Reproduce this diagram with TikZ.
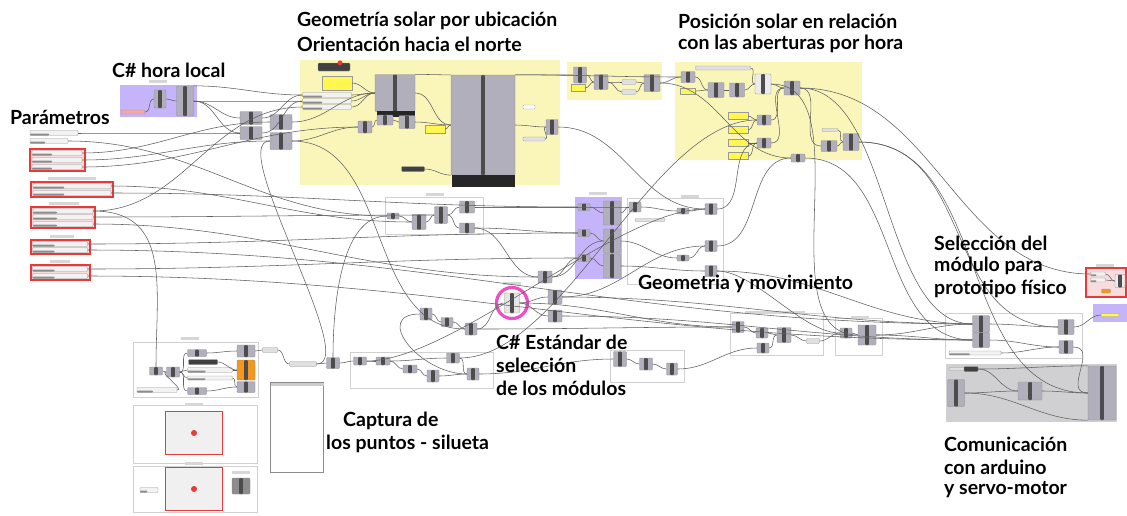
\documentclass[tikz,border=0pt]{standalone}
\usepackage{fontspec}
\setmainfont{Lato}
\usepackage{tikz}
\usetikzlibrary{calc}

\definecolor{ghyellow}{RGB}{250,246,186}
\definecolor{ghnote}{RGB}{255,246,80}
\definecolor{ghpurple}{RGB}{198,180,250}
\definecolor{ghred}{RGB}{232,58,58}
\definecolor{ghpink}{RGB}{246,205,208}
\definecolor{ghgray}{RGB}{208,208,210}
\definecolor{ghcomp}{RGB}{178,175,188}
\definecolor{ghwire}{RGB}{95,95,95}
\definecolor{ghmagenta}{RGB}{236,78,196}
\definecolor{ghorange}{RGB}{245,150,30}

\tikzset{
  comp/.style={draw=black!45, fill=ghcomp, line width=0.3pt, rounded corners=0.8pt,
    minimum width=13pt, minimum height=16pt, inner sep=0pt,
    path picture={\fill[black!70] ([xshift=-1.8pt]path picture bounding box.north)
      rectangle ([xshift=1.8pt]path picture bounding box.south);}},
  slider/.style={draw=black!40, fill=black!12, line width=0.3pt, rounded corners=0.8pt,
    minimum width=45pt, minimum height=4pt, inner sep=0pt},
  pslider/.style={slider, fill=black!5, minimum height=5pt,
    path picture={\fill[black!45] (path picture bounding box.south west) rectangle
      ($(path picture bounding box.south west)!0.4!(path picture bounding box.north east)$ |- path picture bounding box.north);}},
  darkslider/.style={slider, fill=black!75},
  note/.style={draw=black!40, fill=ghnote, line width=0.3pt, minimum width=18pt,
    minimum height=7pt, inner sep=0pt},
  panel/.style={draw=black!45, fill=white, line width=0.4pt, inner sep=0pt},
  redpanel/.style={draw=ghred, line width=1.4pt, fill=black!6, inner sep=0pt,
    minimum width=57pt, minimum height=43pt},
  redbox/.style={draw=ghred, line width=1.3pt, fill=ghpink!70},
  outline/.style={draw=black!18, line width=0.3pt},
  tag/.style={fill=black!16, minimum width=18pt, minimum height=3pt, inner sep=0pt},
  wire/.style={draw=ghwire, line width=0.55pt},
  lbl/.style={anchor=west, inner sep=0pt, font=\fontsize{19.5}{22}\selectfont\bfseries}
}

\begin{document}
\begin{tikzpicture}[x=1pt,y=-1pt]
\useasboundingbox (0,0) rectangle (1127,515);
\fill[white] (0,0) rectangle (1127,515);

% groups
\fill[ghpurple] (120,85) rectangle (197,117);
\fill[ghyellow] (300,60) rectangle (560,185);
\fill[ghyellow] (567,62) rectangle (662,100);
\fill[ghyellow] (675,62) rectangle (862,160);
\fill[ghpurple] (575,197) rectangle (622,279);
\fill[ghpurple] (1093,304) rectangle (1127,322);
\fill[ghgray] (946,364) rectangle (1117,422);
\draw[redbox] (1086,268) rectangle (1126,297);
\draw[outline] (385,197) rectangle (483,234);
\draw[outline] (627,198) rectangle (723,284);
\draw[outline] (350,352) rectangle (493,388);
\draw[outline] (610,350) rectangle (684,382);
\draw[outline] (730,313) rectangle (823,355);
\draw[outline] (835,318) rectangle (882,355);
\draw[outline] (945,313) rectangle (1082,358);
\draw[outline] (133,342) rectangle (258,397);
\draw[outline] (133,405) rectangle (257,463);
\draw[outline] (133,466) rectangle (257,512);

% group tags
\node[tag] (tHora) at (158,81) {};
\node[tag] (tMid) at (435,194) {};
\node[tag] (tPur) at (598,193) {};
\node[tag] (tRig) at (690,196) {};
\node[tag] (tPink) at (512,283) {};
\node[tag] (tLow) at (190,338) {};
\node[tag] (tPan1) at (194,404) {};
\node[tag] (tPan2) at (194,463) {};
\node[tag] (tBot) at (860,317) {};
\node[tag] (tRed) at (1105,265) {};
\node[tag, minimum width=60pt] (tLong) at (775,312) {};

% C# hora local
\node[slider, minimum width=24pt, fill=ghred!45] (h0) at (133,112) {};
\node[comp, minimum width=12pt, minimum height=18pt] (h1) at (160,99) {};
\node[comp, minimum width=17pt, minimum height=30pt] (h2) at (185,101) {};

% parametros
\node[pslider, minimum width=48pt] (s1) at (54,133) {};
\node[pslider, minimum width=38pt] (s2) at (49,141) {};
\draw[redbox] (30,149) rectangle (85,171);
\node[pslider, minimum width=50pt] (r11) at (57,153) {};
\node[pslider, minimum width=50pt] (r12) at (57,160) {};
\node[pslider, minimum width=50pt] (r13) at (57,167) {};
\node[tag, minimum width=48pt] (t2) at (72,178) {};
\draw[redbox] (31,182) rectangle (113,197);
\node[pslider, minimum width=78pt] (r21) at (72,186) {};
\node[pslider, minimum width=78pt] (r22) at (72,193) {};
\node[tag, minimum width=30pt] (t3) at (64,203) {};
\draw[redbox] (31,207) rectangle (95,228);
\node[pslider, minimum width=60pt] (r31) at (63,211) {};
\node[pslider, minimum width=60pt] (r32) at (63,217) {};
\node[pslider, minimum width=60pt] (r33) at (63,224) {};
\node[tag, minimum width=24pt] (t4) at (62,236) {};
\draw[redbox] (31,240) rectangle (90,254);
\node[pslider, minimum width=55pt] (r41) at (60,244) {};
\node[pslider, minimum width=55pt] (r42) at (60,250) {};
\node[tag, minimum width=20pt] (t5) at (60,261) {};
\draw[redbox] (31,265) rectangle (90,280);
\node[pslider, minimum width=55pt] (r51) at (60,269) {};
\node[pslider, minimum width=55pt] (r52) at (60,276) {};

% entradas
\node[comp, minimum width=22pt, minimum height=13pt] (p1) at (251,118) {};
\node[comp, minimum width=22pt, minimum height=13pt] (p2) at (251,133) {};
\node[comp, minimum width=22pt, minimum height=15pt] (p3) at (281,122) {};
\node[comp, minimum width=22pt, minimum height=17pt] (p4) at (281,141) {};

% geometria solar
\node[darkslider, minimum width=32pt, minimum height=8pt] (ydark) at (334,67) {};
\fill[ghred] (ydark.north) ++(6,0) circle (2.5);
\node[note, minimum width=30pt, minimum height=14pt] (ynote1) at (337,83) {};
\node[pslider, minimum width=49pt] (ys1) at (327,95) {};
\node[pslider, minimum width=49pt] (ys2) at (327,101) {};
\node[pslider, minimum width=49pt] (ys3) at (327,107) {};
\node[comp, minimum width=40pt, minimum height=37pt] (compA) at (395,93) {};
\fill[black!85] (377,111) rectangle (415,117);
\node[comp, minimum width=14pt, minimum height=12pt] (ya1) at (365,127) {};
\node[comp, minimum width=16pt, minimum height=10pt] (ya2) at (385,120) {};
\node[comp, minimum width=16pt, minimum height=13pt] (ya3) at (407,122) {};
\node[note, minimum width=20pt, minimum height=8pt] (ynote2) at (435,129) {};
\node[comp, minimum width=64pt, minimum height=100pt] (compB) at (483,125) {};
\fill[black!85] (452,175) rectangle (515,187);
\node[comp, minimum width=12pt, minimum height=15pt] (yb1) at (552,127) {};
\node[slider, minimum width=22pt] (yb2) at (534,139) {};
\node[slider, minimum width=12pt, fill=white] (yb3) at (529,107) {};
\node[darkslider, minimum width=23pt, minimum height=5pt] (ybs) at (413,169) {};

% posicion solar
\node[comp, minimum width=13pt, minimum height=16pt] (t1) at (580,75) {};
\node[note, minimum width=14pt] (tnote) at (578,88) {};
\node[comp, minimum width=14pt, minimum height=15pt] (t2c) at (601,82) {};
\node[slider, minimum width=14pt, minimum height=5pt] (t3) at (629,82) {};
\node[slider, minimum width=14pt, minimum height=5pt] (t4) at (629,92) {};
\node[comp, minimum width=16pt, minimum height=17pt] (t5) at (652,83) {};
\node[comp, minimum width=14pt, minimum height=11pt] (u1) at (688,77) {};
\node[slider, minimum width=55pt] (uLong) at (723,68) {};
\node[note, minimum width=15pt, minimum height=6pt] (unote) at (688,91) {};
\node[comp, minimum width=16pt, minimum height=15pt] (u2) at (716,90) {};
\node[comp, minimum width=15pt, minimum height=14pt] (u3) at (737,90) {};
\node[comp, minimum width=16pt, minimum height=20pt, fill=black!8] (u4) at (763,84) {};
\node[comp, minimum width=16pt, minimum height=14pt] (u5) at (792,88) {};
\node[note, minimum width=20pt] (un1) at (738,116) {};
\node[note, minimum width=20pt] (un2) at (738,130) {};
\node[note, minimum width=20pt] (un3) at (738,143) {};
\node[note, minimum width=20pt] (un4) at (738,156) {};
\node[comp, minimum width=14pt, minimum height=10pt] (u6) at (764,120) {};
\node[comp, minimum width=14pt, minimum height=10pt] (u7) at (764,143) {};
\node[slider, minimum width=16pt, minimum height=3pt] (u8s) at (830,130) {};
\node[comp, minimum width=16pt, minimum height=11pt] (u8) at (829,146) {};
\node[comp, minimum width=16pt, minimum height=17pt] (u9) at (851,142) {};
\node[comp, minimum width=14pt, minimum height=8pt] (u10) at (798,158) {};

% grupo central
\node[comp, minimum width=12pt, minimum height=6pt] (m1) at (393,216) {};
\node[comp, minimum width=14pt, minimum height=15pt] (m2) at (419,222) {};
\node[comp, minimum width=13pt, minimum height=17pt] (m3) at (441,215) {};
\node[comp, minimum width=15pt, minimum height=12pt] (m4) at (467,207) {};
\node[comp, minimum width=15pt, minimum height=10pt] (m5) at (467,228) {};
\node[comp, minimum width=12pt, minimum height=7pt] (pu1) at (584,207) {};
\node[comp, minimum width=12pt, minimum height=7pt] (pu2) at (584,233) {};
\node[comp, minimum width=12pt, minimum height=7pt] (pu3) at (584,258) {};
\node[comp, minimum width=17pt, minimum height=24pt] (pu4) at (612,213) {};
\node[comp, minimum width=17pt, minimum height=24pt] (pu5) at (612,241) {};
\node[comp, minimum width=17pt, minimum height=24pt] (pu6) at (612,266) {};
\node[comp, minimum width=12pt, minimum height=10pt] (g1m) at (635,207) {};
\node[slider, minimum width=30pt, minimum height=3pt] (gsl) at (650,220) {};
\node[comp, minimum width=12pt, minimum height=6pt] (g2m) at (683,211) {};
\node[comp, minimum width=12pt, minimum height=11pt] (g3m) at (711,209) {};
\node[comp, minimum width=12pt, minimum height=11pt] (g4m) at (711,246) {};
\node[comp, minimum width=12pt, minimum height=6pt] (g5m) at (683,258) {};
\node[comp, minimum width=12pt, minimum height=11pt] (g6m) at (711,271) {};

% C# estandar
\node[comp, minimum width=14pt, minimum height=12pt] (q1) at (545,277) {};
\node[comp, minimum width=14pt, minimum height=14pt] (q2) at (555,297) {};
\node[comp, minimum width=14pt, minimum height=12pt] (q3) at (555,316) {};
\node[draw=ghmagenta, line width=3.2pt, circle, minimum size=31pt] (pring) at (512,303) {};
\node[comp, minimum width=15pt, minimum height=20pt, fill=black!10] (pc) at (512,303) {};
\node[comp, minimum width=12pt, minimum height=12pt] (l1) at (426,314) {};
\node[comp, minimum width=12pt, minimum height=9pt] (l2) at (447,322) {};
\node[comp, minimum width=12pt, minimum height=12pt] (l3) at (471,329) {};

% captura
\node[pslider, minimum width=40pt] (bp) at (157,390) {};
\node[comp, minimum width=13pt, minimum height=8pt] (b1) at (156,371) {};
\node[comp, minimum width=13pt, minimum height=10pt] (b2) at (173,372) {};
\node[comp, minimum width=19pt, minimum height=7pt] (b3) at (197,353) {};
\node[darkslider, minimum width=29pt, minimum height=5pt] (b4) at (203,362) {};
\node[pslider, minimum width=45pt] (b5) at (210,370) {};
\node[pslider, minimum width=45pt, minimum height=4pt] (b6) at (210,378) {};
\node[comp, minimum width=19pt, minimum height=7pt] (b7) at (197,391) {};
\node[comp, minimum width=18pt, minimum height=12pt] (b8) at (246,351) {};
\node[comp, minimum width=18pt, minimum height=20pt, fill=ghorange] (b9) at (246,370) {};
\node[comp, minimum width=18pt, minimum height=11pt] (b10) at (246,387) {};
\node[slider, minimum width=15pt, minimum height=5pt] (c1) at (270,350) {};
\node[slider, minimum width=27pt, minimum height=5pt] (c2) at (303,364) {};
\node[comp, minimum width=13pt, minimum height=11pt] (l4) at (333,363) {};
\node[comp, minimum width=13pt, minimum height=8pt] (l5) at (360,361) {};
\node[comp, minimum width=14pt, minimum height=8pt] (l6) at (383,361) {};
\node[comp, minimum width=14pt, minimum height=8pt] (l7) at (410,369) {};
\node[comp, minimum width=12pt, minimum height=12pt] (l8) at (433,376) {};
\node[comp, minimum width=13pt, minimum height=10pt] (l9) at (453,358) {};
\node[comp, minimum width=12pt, minimum height=12pt] (l10) at (473,374) {};
\node[comp, minimum width=13pt, minimum height=15pt] (l11) at (620,359) {};
\node[comp, minimum width=13pt, minimum height=12pt] (l12) at (646,364) {};
\node[comp, minimum width=11pt, minimum height=12pt] (l13) at (672,369) {};
\node[redpanel] (rp1) at (194,433) {};
\fill[ghred] (rp1) circle (3);
\node[redpanel] (rp2) at (194,489) {};
\fill[ghred] (rp2) circle (3);
\node[pslider, minimum width=18pt] (bq) at (149,490) {};
\node[comp, minimum width=18pt, minimum height=16pt, fill=black!45] (bc) at (241,486) {};
\node[tag] (tbc) at (241,472) {};
\node[panel, minimum width=53pt, minimum height=90pt] (pan) at (297,427) {};
\fill[black!20] (270.5,382.5) rectangle (323.5,386);

% salida
\node[comp, minimum width=12pt, minimum height=11pt] (v1) at (738,327) {};
\node[comp, minimum width=12pt, minimum height=10pt] (v2) at (762,333) {};
\node[comp, minimum width=14pt, minimum height=15pt] (v3) at (784,335) {};
\node[comp, minimum width=12pt, minimum height=10pt] (v4) at (763,348) {};
\node[slider, minimum width=13pt, minimum height=5pt] (vs) at (813,341) {};
\node[comp, minimum width=12pt, minimum height=10pt] (v5) at (846,333) {};
\node[comp, minimum width=18pt, minimum height=20pt] (v6) at (867,335) {};
\node[comp, minimum width=17pt, minimum height=17pt] (w1) at (981,324) {};
\node[comp, minimum width=17pt, minimum height=15pt] (w2) at (981,340) {};
\node[comp, minimum width=16pt, minimum height=15pt] (w3) at (1066,327) {};
\node[comp, minimum width=14pt, minimum height=13pt] (w4) at (1066,347) {};
\node[pslider, minimum width=52pt, minimum height=4pt] (wsl) at (975,353) {};
\node[pslider, minimum width=15pt, minimum height=4pt] (rr1) at (1098,274) {};
\node[pslider, minimum width=15pt, minimum height=4pt] (rr2) at (1098,280) {};
\node[slider, minimum width=9pt, minimum height=4pt, fill=ghorange] (rr3) at (1106,291) {};
\node[comp, minimum width=10pt, minimum height=13pt, fill=black!8] (rr4) at (1120,281) {};
\node[slider, minimum width=18pt, minimum height=3pt, fill=ghnote] (pr) at (1110,315) {};

% comunicacion
\node[slider, minimum width=16pt, minimum height=3pt] (gs) at (957,369) {};
\node[darkslider, minimum width=14pt, minimum height=5pt] (g0) at (971,369) {};
\node[comp, minimum width=17pt, minimum height=27pt] (g1) at (956,393) {};
\node[comp, minimum width=24pt, minimum height=18pt] (g2) at (1030,391) {};
\node[comp, minimum width=28pt, minimum height=54pt] (g3) at (1102,393) {};

% wires
\draw[wire] (h0.east) to[out=0,in=180] (h1.west);
\draw[wire] (h1.east) to[out=0,in=180] (h2.west);
\draw[wire] (h2.east) to[out=0,in=180] (p1.west);
\draw[wire] (h2.east) to[out=0,in=180] (p2.west);
\draw[wire] (h2.north east) to[out=0,in=180] (ys1.west);
\draw[wire] (h2.east) to[out=0,in=180] (ys2.west);
\draw[wire] (s1.east) to[out=0,in=180] (p2.west);
\draw[wire] (s2.east) to[out=0,in=180] (m1.west);
\draw[wire] (r11.east) to[out=0,in=180] (p3.west);
\draw[wire] (r12.east) to[out=0,in=180] (p4.west);
\draw[wire] (r13.east) to[out=0,in=180] (ya1.west);
\draw[wire] (r21.east) to[out=0,in=180] (m2.west);
\draw[wire] (r22.east) to[out=0,in=180] (pu1.west);
\draw[wire] (r31.east) to[out=0,in=180] (ys3.west);
\draw[wire] (r31.east) to[out=0,in=90,looseness=1.2] (b1.north);
\draw[wire] (r32.east) to[out=0,in=180] (m3.west);
\draw[wire] (r33.east) to[out=0,in=180] (q1.west);
\draw[wire] (r41.east) to[out=0,in=180] (pu2.west);
\draw[wire] (r42.east) to[out=0,in=180] (w1.west);
\draw[wire] (r51.east) to[out=0,in=180] (pu3.west);
\draw[wire] (r52.east) to[out=0,in=180] (w2.west);
\draw[wire] (p1.east) to[out=0,in=180] (ys1.west);
\draw[wire] (p2.east) to[out=0,in=180] (ys2.west);
\draw[wire] (p3.east) to[out=0,in=180] (compA.west);
\draw[wire] (p4.east) to[out=0,in=180] (ya1.west);
\draw[wire] (p4.east) to[out=0,in=180] (l3.west);
\draw[wire] (ys1.east) to[out=0,in=180] (compA.west);
\draw[wire] (ys2.east) to[out=0,in=180] (compA.west);
\draw[wire] (ys3.east) to[out=0,in=180] (compA.west);
\draw[wire] (ynote1.east) to[out=0,in=180] (compA.west);
\draw[wire] (ya1.east) to[out=0,in=180] (ya2.west);
\draw[wire] (ya2.east) to[out=0,in=180] (ya3.west);
\draw[wire] (compA.east) to[out=0,in=180] (compB.west);
\draw[wire] (compA.north east) to[out=0,in=180] (compB.north west);
\draw[wire] (ya3.east) to[out=0,in=180] (compB.west);
\draw[wire] (ynote2.east) to[out=0,in=180] (compB.west);
\draw[wire] (ybs.east) to[out=0,in=180] (compB.south west);
\draw[wire] (compB.east) to[out=0,in=180] (yb1.west);
\draw[wire] (yb2.east) to[out=0,in=180] (yb1.west);
\draw[wire] (compB.north east) to[out=0,in=180] (t1.west);
\draw[wire] (compB.north east) to[out=0,in=180] (u1.west);
\draw[wire] (t1.east) to[out=0,in=180] (t2c.west);
\draw[wire] (tnote.east) to[out=0,in=180] (t2c.west);
\draw[wire] (t2c.east) to[out=0,in=180] (t3.west);
\draw[wire] (t2c.east) to[out=0,in=180] (t4.west);
\draw[wire] (t3.east) to[out=0,in=180] (t5.west);
\draw[wire] (t4.east) to[out=0,in=180] (t5.west);
\draw[wire] (t5.east) to[out=0,in=180] (u1.west);
\draw[wire] (u1.east) to[out=0,in=180] (u2.west);
\draw[wire] (unote.east) to[out=0,in=180] (u2.west);
\draw[wire] (u2.east) to[out=0,in=180] (u3.west);
\draw[wire] (u3.east) to[out=0,in=180] (u4.west);
\draw[wire] (uLong.east) to[out=0,in=180] (u4.west);
\draw[wire] (u4.east) to[out=0,in=180] (u5.west);
\draw[wire] (un1.east) to[out=0,in=180] (u6.west);
\draw[wire] (un2.east) to[out=0,in=180] (u6.west);
\draw[wire] (un3.east) to[out=0,in=180] (u7.west);
\draw[wire] (un4.east) to[out=0,in=180] (u7.west);
\draw[wire] (u6.east) to[out=0,in=180] (u5.west);
\draw[wire] (u7.east) to[out=0,in=180] (u5.west);
\draw[wire] (u8s.east) to[out=0,in=180] (u9.west);
\draw[wire] (u8.east) to[out=0,in=180] (u9.west);
\draw[wire] (u5.east) to[out=0,in=180,looseness=0.8] (w1.west);
\draw[wire] (u5.east) to[out=0,in=180] (u8.west);
\draw[wire] (u4.east) to[out=0,in=180,looseness=0.9] (v6.west);
\draw[wire] (u9.east) to[out=0,in=180,looseness=1.1] (w3.west);
\draw[wire] (u9.east) to[out=0,in=180] (g3.west);
\draw[wire] (u5.east) to[out=0,in=180] (rr1.west);
\draw[wire] (u10.east) to[out=0,in=180] (w2.west);
\draw[wire] (yb1.east) to[out=0,in=180] (g3m.west);
\draw[wire] (t5.east) to[out=0,in=180] (u10.west);
\draw[wire] (m1.east) to[out=0,in=180] (m2.west);
\draw[wire] (m2.east) to[out=0,in=180] (m3.west);
\draw[wire] (m3.east) to[out=0,in=180] (m4.west);
\draw[wire] (m3.east) to[out=0,in=180] (m5.west);
\draw[wire] (m4.east) to[out=0,in=180] (pu1.west);
\draw[wire] (m4.east) to[out=0,in=180] (g1m.west);
\draw[wire] (m5.east) to[out=0,in=180] (q1.west);
\draw[wire] (m5.east) to[out=0,in=180] (pu2.west);
\draw[wire] (pu1.east) to[out=0,in=180] (pu4.west);
\draw[wire] (pu2.east) to[out=0,in=180] (pu5.west);
\draw[wire] (pu3.east) to[out=0,in=180] (pu6.west);
\draw[wire] (q1.east) to[out=0,in=180] (pu3.west);
\draw[wire] (q1.east) to[out=0,in=180] (pu5.west);
\draw[wire] (pu4.east) to[out=0,in=180] (g1m.west);
\draw[wire] (g1m.east) to[out=0,in=180] (g2m.west);
\draw[wire] (g2m.east) to[out=0,in=180] (g3m.west);
\draw[wire] (pu5.east) to[out=0,in=180] (g5m.west);
\draw[wire] (g5m.east) to[out=0,in=180] (g4m.west);
\draw[wire] (pu6.east) to[out=0,in=180] (g6m.west);
\draw[wire] (g3m.east) to[out=0,in=180] (u7.west);
\draw[wire] (g4m.east) to[out=0,in=180] (u10.west);
\draw[wire] (g6m.east) to[out=0,in=180] (w1.west);
\draw[wire] (pc.east) to[out=0,in=180] (q2.west);
\draw[wire] (pc.east) to[out=0,in=180] (q3.west);
\draw[wire] (q2.east) to[out=0,in=180] (w1.west);
\draw[wire] (q3.east) to[out=0,in=180] (w2.west);
\draw[wire] (q2.east) to[out=0,in=180] (g4m.west);
\draw[wire] (l1.east) to[out=0,in=180] (l2.west);
\draw[wire] (l2.east) to[out=0,in=180] (l3.west);
\draw[wire] (l3.east) to[out=0,in=180] (pc.west);
\draw[wire] (l1.west) to[out=180,in=180,looseness=1.6] (l10.west);
\draw[wire] (bp.east) to[out=0,in=180] (b2.west);
\draw[wire] (b1.east) to[out=0,in=180] (b2.west);
\draw[wire] (b2.east) to[out=0,in=180] (b3.west);
\draw[wire] (b2.east) to[out=0,in=180] (b5.west);
\draw[wire] (b2.east) to[out=0,in=180] (b6.west);
\draw[wire] (b2.east) to[out=0,in=180] (b7.west);
\draw[wire] (b3.east) to[out=0,in=180] (b8.west);
\draw[wire] (b4.east) to[out=0,in=180] (b9.west);
\draw[wire] (b5.east) to[out=0,in=180] (b9.west);
\draw[wire] (b6.east) to[out=0,in=180] (b10.west);
\draw[wire] (b7.east) to[out=0,in=180] (b10.west);
\draw[wire] (b8.east) to[out=0,in=180] (c1.west);
\draw[wire] (c1.east) to[out=0,in=180] (c2.west);
\draw[wire] (c2.east) to[out=0,in=180] (l4.west);
\draw[wire] (l4.east) to[out=0,in=180] (l5.west);
\draw[wire] (l5.east) to[out=0,in=180] (l6.west);
\draw[wire] (l6.east) to[out=0,in=180] (l7.west);
\draw[wire] (l7.east) to[out=0,in=180] (l8.west);
\draw[wire] (l6.east) to[out=0,in=180] (l9.west);
\draw[wire] (l8.east) to[out=0,in=180] (l10.west);
\draw[wire] (l9.east) to[out=0,in=180] (l10.west);
\draw[wire] (l10.east) to[out=0,in=180] (l11.west);
\draw[wire] (l11.east) to[out=0,in=180] (l12.west);
\draw[wire] (l12.east) to[out=0,in=180] (l13.west);
\draw[wire] (l13.east) to[out=0,in=180] (v4.west);
\draw[wire] (l4.north) to[out=90,in=180,looseness=0.8] (m1.west);
\draw[wire] (l5.east) to[out=0,in=180,looseness=0.6] (g3m.west);
\draw[wire] (l9.east) to[out=0,in=180,looseness=0.7] (u6.west);
\draw[wire] (c2.east) to[out=0,in=180,looseness=0.5] (p4.west);
\draw[wire] (l3.east) to[out=0,in=180] (v1.west);
\draw[wire] (pc.east) to[out=0,in=180] (v1.west);
\draw[wire] (v1.east) to[out=0,in=180] (v2.west);
\draw[wire] (v2.east) to[out=0,in=180] (v3.west);
\draw[wire] (v4.east) to[out=0,in=180] (v3.west);
\draw[wire] (v3.east) to[out=0,in=180] (vs.west);
\draw[wire] (vs.east) to[out=0,in=180] (v5.west);
\draw[wire] (v5.east) to[out=0,in=180] (v6.west);
\draw[wire] (v6.east) to[out=0,in=180] (w1.west);
\draw[wire] (v6.east) to[out=0,in=180] (w2.west);
\draw[wire] (g6m.east) to[out=0,in=180,looseness=0.7] (v5.west);
\draw[wire] (w1.east) to[out=0,in=180] (w3.west);
\draw[wire] (w2.east) to[out=0,in=180] (w4.west);
\draw[wire] (wsl.east) to[out=0,in=180] (w4.west);
\draw[wire] (w3.east) to[out=0,in=180] (pr.west);
\draw[wire] (w4.east) to[out=0,in=180,looseness=1.4] (g3.west);
\draw[wire] (rr1.east) to[out=0,in=180] (rr4.west);
\draw[wire] (rr2.east) to[out=0,in=180] (rr4.west);
\draw[wire] (g0.east) to[out=0,in=180] (g2.west);
\draw[wire] (g1.east) to[out=0,in=180] (g2.west);
\draw[wire] (g1.east) to[out=0,in=180] (g3.south west);
\draw[wire] (g0.east) to[out=0,in=180] (g3.north west);
\draw[wire] (g2.east) to[out=0,in=180] (g3.west);

% labels
\node[lbl] (lGeo1) at (297,21) {Geometría solar por ubicación};
\node[lbl] (lGeo2) at (297,44) {Orientación hacia el norte};
\node[lbl] (lPos1) at (678,21) {Posición solar en relación};
\node[lbl] (lPos2) at (678,44) {con las aberturas por hora};
\node[lbl] (lHora) at (112,70) {C\# hora local};
\node[lbl] (lPar) at (10,117) {Parámetros};
\node[lbl] (lSel1) at (934,243) {Selección del};
\node[lbl] (lSel2) at (934,266) {módulo para};
\node[lbl] (lSel3) at (934,289) {prototipo físico};
\node[lbl] (lMov) at (638,284) {Geometria y movimiento};
\node[lbl] (lEst1) at (496,342) {C\# Estándar de};
\node[lbl] (lEst2) at (496,365) {selección};
\node[lbl] (lEst3) at (496,388) {de los módulos};
\node[lbl] (lCap1) at (343,421) {Captura de};
\node[lbl] (lCap2) at (326,444) {los puntos - silueta};
\node[lbl] (lCom1) at (944,444) {Comunicación};
\node[lbl] (lCom2) at (944,467) {con arduino};
\node[lbl] (lCom3) at (944,490) {y servo-motor};
\end{tikzpicture}
\end{document}
